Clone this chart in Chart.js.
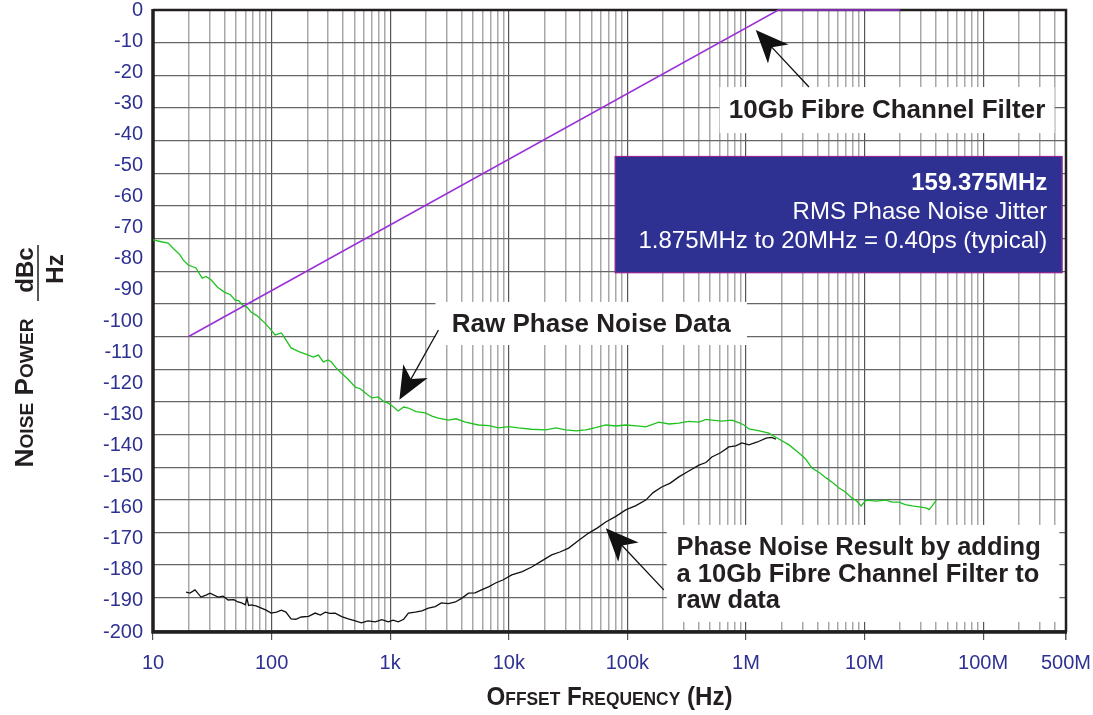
<!DOCTYPE html>
<html>
<head>
<meta charset="utf-8">
<title>Phase noise, 159.375MHz</title>
<script src="https://cdn.jsdelivr.net/npm/chart.js@4.4.1/dist/chart.umd.min.js"></script>
<style>
  html, body { margin: 0; padding: 0; background: #fff; }
  #wrap { width: 1093px; height: 715px; }
</style>
</head>
<body>
<div id="wrap"><canvas id="noiseChart"></canvas></div>
<script>
// Raw phase noise (green trace), offset frequency in Hz / dBc/Hz
var rawFreq = [10, 11.5, 13.4, 15, 16.9, 18, 19.8, 23, 26, 28, 31, 35, 40, 45, 49, 53, 57, 62, 67, 75,
  88, 98, 107, 121, 132, 146, 170, 204, 225, 248, 273, 300, 319, 350, 387, 440, 508, 560, 618, 700,
  795, 880, 966, 1060, 1170, 1300, 1425, 1650, 1980, 2250, 2550, 3100, 3600, 4300, 5560, 6800, 8200,
  10000, 12100, 15500, 20500, 25000, 30200, 37000, 44600, 54000, 65800, 80000, 96900, 120000, 143000,
  184000, 225000, 272000, 330000, 401000, 460000, 516000, 620000, 762000, 860000, 962000,
  1.06e6, 1.3e6, 1.56e6, 1.83e6, 2.31e6, 2.8e6, 3.2e6, 3.61e6, 4.2e6, 4.74e6, 5.4e6, 6.1e6, 6.9e6,
  7.85e6, 8.6e6, 9.35e6, 10.3e6, 12.5e6, 15.2e6, 17e6, 19.6e6, 22e6, 25.2e6, 29e6, 33.1e6, 35e6,
  37.2e6, 40.3e6];
var rawNoise = [-70.4, -70.9, -71.4, -73.2, -75.0, -76.6, -78.1, -79.0, -82.1, -81.6, -82.7, -84.9,
  -86.4, -87.2, -88.8, -89.1, -90.4, -91.0, -92.5, -93.6, -95.9, -97.8, -99.5, -98.9, -101.0, -103.5,
  -104.6, -105.7, -106.3, -105.7, -107.8, -107.2, -107.8, -109.6, -111.2, -113.0, -115.5, -116.0,
  -117.3, -118.8, -118.5, -119.9, -120.4, -121.5, -122.8, -121.6, -121.9, -123.0, -123.4, -124.4,
  -125.0, -125.6, -125.2, -126.2, -127.1, -127.3, -128.0, -127.6, -128.0, -128.4, -128.6, -128.0,
  -128.6, -128.9, -128.6, -127.9, -127.1, -127.4, -127.1, -127.4, -127.7, -126.2, -126.8, -126.5,
  -126.0, -126.2, -125.4, -125.6, -125.9, -125.6, -126.3, -127.1, -128.3, -128.9, -129.6, -131.1,
  -133.2, -135.7, -137.6, -140.3, -141.8, -143.3, -144.8, -146.4, -147.6, -149.5, -150.4, -151.9,
  -150.1, -150.4, -150.1, -150.7, -150.7, -151.5, -151.9, -152.2, -152.5, -153.0, -151.9, -150.1];

// Result after the 10Gb Fibre Channel filter (black trace)
var resultFreq = [19, 20.5, 22.6, 25.4, 28, 30.3, 35.4, 39, 43, 48, 52, 56, 60, 62, 64, 67, 74, 82,
  90, 99, 110, 121, 132, 146, 160, 178, 205, 233, 258, 284, 310, 344, 390, 443, 500, 571, 650, 750,
  850, 966, 1060, 1170, 1300, 1425, 1630, 1850, 2100, 2400, 2700, 3100, 3550, 4000, 4580, 5200,
  5890, 6750, 7740, 9000, 10600, 13000, 15600, 19000, 23000, 27000, 32000, 39000, 47200, 56000,
  65800, 80000, 96900, 118000, 143000, 165000, 195000, 230000, 272000, 330000, 401000, 460000,
  516000, 610000, 718000, 820000, 925000, 1.06e6, 1.25e6, 1.48e6, 1.65e6, 1.79e6];
var resultNoise = [-178.3, -178.6, -177.6, -179.8, -179.2, -178.6, -179.8, -179.5, -180.7, -180.6,
  -181.3, -181.6, -182.2, -180.2, -182.4, -182.2, -182.5, -183.2, -183.8, -184.7, -184.4, -183.8,
  -184.4, -186.5, -186.6, -185.9, -185.7, -184.7, -185.3, -184.4, -184.8, -184.7, -185.8, -186.5,
  -187.0, -187.7, -187.1, -187.4, -186.7, -187.4, -186.9, -187.4, -186.6, -184.7, -184.4, -184.0,
  -183.2, -182.7, -181.6, -181.8, -181.3, -180.2, -178.6, -178.5, -177.6, -176.7, -175.5, -174.5,
  -173.0, -172.0, -170.6, -168.7, -166.9, -166.0, -164.8, -162.4, -160.2, -158.6, -156.8, -155.1,
  -153.1, -151.8, -150.1, -147.8, -146.1, -144.9, -143.0, -141.2, -139.4, -138.6, -136.9, -135.6,
  -133.8, -133.5, -132.6, -133.2, -132.3, -131.1, -130.9, -131.4];

// 10Gb Fibre Channel filter response (purple)
var filterFreq = [20, 1.875e6, 20e6];
var filterLevel = [-100, 0, 0];

// axis labels
var xTickValues = [10, 100, 1e3, 1e4, 1e5, 1e6, 1e7, 1e8, 5e8];
var xTickLabels = ['10', '100', '1k', '10k', '100k', '1M', '10M', '100M', '500M'];
var yTickLabels = ['0', '-10', '-20', '-30', '-40', '-50', '-60', '-70', '-80', '-90', '-100',
  '-110', '-120', '-130', '-140', '-150', '-160', '-170', '-180', '-190', '-200'];

var FONT = '"Liberation Sans", Arial, Helvetica, sans-serif';
var BLUE = '#2e3192';

// grid lines at 1..9 x every decade
var xGrid = [];
for (var e = 1; e <= 8; e++) {
  for (var m = 1; m <= 9; m++) {
    var v = m * Math.pow(10, e);
    if (v <= 5e8) xGrid.push(v);
  }
}
// the printed labels are spread a little differently from the grid, so the grid has its own axis
var yGrid = [];
for (var g = 0; g >= -190; g -= 10) yGrid.push(g);

function toPoints(xs, ys) {
  return xs.map(function (x, i) { return { x: x, y: ys[i] }; });
}
function isDecade(v) {
  var l = Math.log10(v);
  return Math.abs(l - Math.round(l)) < 1e-9;
}

// text boxes and arrows, placed in data units
var notes = {
  filterBox: { f0: 6.0e5, f1: 4.0e8, v0: -23.6, v1: -37.7, text: '10Gb Fibre Channel Filter' },
  rawBox: { f0: 2410, f1: 1.02e6, v0: -89.4, v1: -102.6, text: 'Raw Phase Noise Data' },
  resultBox: { f0: 2.15e5, f1: 4.4e8, v0: -157.7, v1: -187.4, textF: 2.6e5,
    lines: ['Phase Noise Result by adding', 'a 10Gb Fibre Channel Filter to', 'raw data'],
    lineV: [-164.8, -173.0, -181.0] },
  jitterBox: { f0: 7.83e4, f1: 4.67e8, v0: -44.7, v1: -80.6, textF: 3.48e8,
    lines: ['159.375MHz', 'RMS Phase Noise Jitter', '1.875MHz to 20MHz = 0.40ps (typical)'],
    lineV: [-53.0, -61.9, -70.8] },
  arrows: [
    { tip: [1.21e6, -6.1], tail: [3.40e6, -23.6] },
    { tip: [1196, -119.4], tail: [2553, -98.0] },
    { tip: [6.58e4, -158.7], tail: [2.03e5, -177.6] }
  ]
};

function drawArrow(ctx, tx, ty, ex, ey) {
  var dx = ex - tx, dy = ey - ty;
  var len = Math.sqrt(dx * dx + dy * dy);
  var ux = dx / len, uy = dy / len;
  var hl = 33, hw = 14;
  var bx = tx + ux * hl, by = ty + uy * hl;
  ctx.strokeStyle = '#111';
  ctx.lineWidth = 1.3;
  ctx.beginPath();
  ctx.moveTo(tx + ux * hl * 0.7, ty + uy * hl * 0.7);
  ctx.lineTo(ex, ey);
  ctx.stroke();
  ctx.fillStyle = '#111';
  ctx.beginPath();
  ctx.moveTo(tx, ty);
  ctx.lineTo(bx - uy * hw, by + ux * hw);
  ctx.lineTo(tx + ux * hl * 0.72, ty + uy * hl * 0.72);
  ctx.lineTo(bx + uy * hw, by - ux * hw);
  ctx.closePath();
  ctx.fill();
}

// small caps: capitals and spaces big, lower case letters as smaller capitals
function capsRuns(text, big, small) {
  var runs = [];
  for (var i = 0; i < text.length; i++) {
    var c = text[i];
    var lower = c !== c.toUpperCase();
    var size = lower ? small : big;
    var last = runs[runs.length - 1];
    if (last && last.size === size) last.text += c.toUpperCase();
    else runs.push({ text: c.toUpperCase(), size: size });
  }
  return runs;
}
function drawRuns(ctx, runs, cx, baseline, targetWidth) {
  var total = 0;
  runs.forEach(function (r) {
    ctx.font = 'bold ' + r.size + 'px ' + FONT;
    r.w = ctx.measureText(r.text).width;
    total += r.w;
  });
  var sx = targetWidth ? targetWidth / total : 1;
  ctx.save();
  ctx.translate(cx - total * sx / 2, baseline);
  ctx.scale(sx, 1);
  ctx.textAlign = 'left';
  ctx.textBaseline = 'alphabetic';
  ctx.fillStyle = '#231f20';
  var x = 0;
  runs.forEach(function (r) {
    ctx.font = 'bold ' + r.size + 'px ' + FONT;
    ctx.fillText(r.text, x, 0);
    x += r.w;
  });
  ctx.restore();
}

var notesPlugin = {
  id: 'notes',
  beforeDatasetsDraw: function (chart) {
    var ctx = chart.ctx, xs = chart.scales.x, ys = chart.scales.y, a = chart.chartArea;
    function rect(b) {
      var x0 = xs.getPixelForValue(b.f0), x1 = xs.getPixelForValue(b.f1);
      var y0 = ys.getPixelForValue(b.v0), y1 = ys.getPixelForValue(b.v1);
      return { x: x0, y: y0, w: x1 - x0, h: y1 - y0 };
    }
    ctx.save();
    // white label boxes
    [notes.filterBox, notes.rawBox, notes.resultBox].forEach(function (b) {
      var r = rect(b);
      ctx.fillStyle = '#fff';
      ctx.fillRect(r.x, r.y, r.w, r.h);
    });
    ctx.fillStyle = '#231f20';
    ctx.font = 'bold 26px ' + FONT;
    ctx.textBaseline = 'middle';
    ctx.textAlign = 'center';
    [notes.filterBox, notes.rawBox].forEach(function (b) {
      var r = rect(b);
      ctx.fillText(b.text, r.x + r.w / 2, r.y + r.h / 2 + 1);
    });
    ctx.textAlign = 'left';
    ctx.font = 'bold 25.5px ' + FONT;
    var rb = notes.resultBox;
    rb.lines.forEach(function (t, i) {
      ctx.fillText(t, xs.getPixelForValue(rb.textF), ys.getPixelForValue(rb.lineV[i]));
    });
    // jitter box
    var jb = notes.jitterBox, jr = rect(jb);
    ctx.fillStyle = BLUE;
    ctx.fillRect(jr.x, jr.y, jr.w, jr.h);
    ctx.strokeStyle = '#a3238e';
    ctx.lineWidth = 1;
    ctx.strokeRect(jr.x + 0.5, jr.y + 0.5, jr.w - 1, jr.h - 1);
    ctx.fillStyle = '#fff';
    ctx.textAlign = 'right';
    jb.lines.forEach(function (t, i) {
      ctx.font = (i === 0 ? 'bold ' : '') + '24px ' + FONT;
      ctx.fillText(t, xs.getPixelForValue(jb.textF), ys.getPixelForValue(jb.lineV[i]));
    });
    // plot frame
    ctx.strokeStyle = '#231f20';
    ctx.lineWidth = 2.5;
    ctx.beginPath();
    ctx.moveTo(a.left, a.top);
    ctx.lineTo(a.right, a.top);
    ctx.lineTo(a.right, a.bottom);
    ctx.stroke();
    ctx.lineWidth = 3.5;
    ctx.beginPath();
    ctx.moveTo(a.left, a.top - 1);
    ctx.lineTo(a.left, a.bottom);
    ctx.lineTo(a.right + 1, a.bottom);
    ctx.stroke();
    ctx.restore();
  },
  afterDatasetsDraw: function (chart) {
    var ctx = chart.ctx, xs = chart.scales.x, ys = chart.scales.y;
    ctx.save();
    notes.arrows.forEach(function (ar) {
      drawArrow(ctx, xs.getPixelForValue(ar.tip[0]), ys.getPixelForValue(ar.tip[1]),
        xs.getPixelForValue(ar.tail[0]), ys.getPixelForValue(ar.tail[1]));
    });
    ctx.restore();
  },
  afterDraw: function (chart) {
    var ctx = chart.ctx, a = chart.chartArea;
    // x title
    var xRuns = capsRuns('Offset Frequency', 25, 18);
    xRuns.push({ text: ' (Hz)', size: 25 });
    drawRuns(ctx, xRuns, (a.left + a.right) / 2, 705, 246);
    // y title, rotated
    ctx.save();
    ctx.translate(33, 393);
    ctx.rotate(-Math.PI / 2);
    drawRuns(ctx, capsRuns('Noise Power', 26, 19), 0, 0, 149);
    ctx.restore();
    ctx.save();
    ctx.fillStyle = '#231f20';
    ctx.font = 'bold 24px ' + FONT;
    ctx.textAlign = 'center';
    ctx.textBaseline = 'alphabetic';
    ctx.translate(33, 270);
    ctx.rotate(-Math.PI / 2);
    ctx.fillText('dBc', 0, 0);
    ctx.restore();
    ctx.save();
    ctx.fillStyle = '#231f20';
    ctx.font = 'bold 24px ' + FONT;
    ctx.textAlign = 'center';
    ctx.textBaseline = 'alphabetic';
    ctx.translate(63, 269);
    ctx.rotate(-Math.PI / 2);
    ctx.fillText('Hz', 0, 0);
    ctx.restore();
    ctx.save();
    ctx.strokeStyle = '#231f20';
    ctx.lineWidth = 1.5;
    ctx.beginPath();
    ctx.moveTo(38, 245);
    ctx.lineTo(38, 301);
    ctx.stroke();
    ctx.restore();
  }
};

var ctx = document.getElementById('noiseChart').getContext('2d');
var noiseChart = new Chart(ctx, {
  type: 'line',
  data: {
    datasets: [{
      label: 'Raw Phase Noise Data',
      data: toPoints(rawFreq, rawNoise),
      borderColor: '#1fc21f',
      borderWidth: 1.3,
      pointRadius: 0,
      order: 2
    }, {
      label: 'Phase Noise Result',
      data: toPoints(resultFreq, resultNoise),
      borderColor: '#111',
      borderWidth: 1.3,
      pointRadius: 0,
      order: 1
    }, {
      label: '10Gb Fibre Channel Filter',
      data: toPoints(filterFreq, filterLevel),
      borderColor: '#9b30d8',
      borderWidth: 1.6,
      pointRadius: 0,
      clip: 4,
      order: 0
    }]
  },
  options: {
    responsive: true,
    maintainAspectRatio: false,
    animation: false,
    layout: { padding: { top: 10, right: 27, left: 0, bottom: 0 } },
    plugins: {
      legend: { display: false },
      tooltip: { enabled: false }
    },
    scales: {
      x: {
        type: 'logarithmic',
        position: 'bottom',
        min: 10,
        max: 5e8,
        afterBuildTicks: function (axis) {
          axis.ticks = xGrid.map(function (v) { return { value: v }; });
        },
        afterFit: function (scale) {
          scale.height = 83;
          scale.paddingLeft = 0;
          scale.paddingRight = 0;
        },
        border: { display: false },
        grid: {
          color: function (c) { return c.tick && isDecade(c.tick.value) ? '#555' : '#a8a8a8'; },
          lineWidth: function (c) { return c.tick && isDecade(c.tick.value) ? 1.2 : 1.5; },
          drawTicks: true,
          tickLength: 8,
          tickColor: function (c) { return c.tick && (isDecade(c.tick.value) || c.tick.value === 5e8) ? '#555' : 'rgba(0,0,0,0)'; }
        },
        ticks: {
          autoSkip: false,
          maxRotation: 0,
          padding: 13,
          color: BLUE,
          font: { family: FONT, size: 20, lineHeight: 1 },
          callback: function (value) {
            var i = xTickValues.indexOf(value);
            return i < 0 ? '' : xTickLabels[i];
          }
        }
      },
      y: {
        type: 'linear',
        position: 'left',
        min: -190.5,
        max: 0,
        afterBuildTicks: function (axis) {
          axis.ticks = yGrid.map(function (v) { return { value: v }; });
        },
        afterFit: function (scale) { scale.width = 0; },
        border: { display: false },
        grid: { color: '#666', lineWidth: 1.2, drawTicks: false },
        ticks: { display: false }
      },
      yLabels: {
        type: 'linear',
        position: 'left',
        min: -200,
        max: 0,
        afterFit: function (scale) {
          scale.width = 153;
          scale.paddingTop = 0;
          scale.paddingBottom = 0;
        },
        border: { display: false },
        grid: { display: false, drawTicks: false },
        ticks: {
          stepSize: 10,
          padding: 10,
          color: BLUE,
          font: { family: FONT, size: 20, lineHeight: 1 },
          callback: function (value) { return yTickLabels[Math.round(-value / 10)]; }
        }
      }
    }
  },
  plugins: [notesPlugin]
});
</script>
</body>
</html>
